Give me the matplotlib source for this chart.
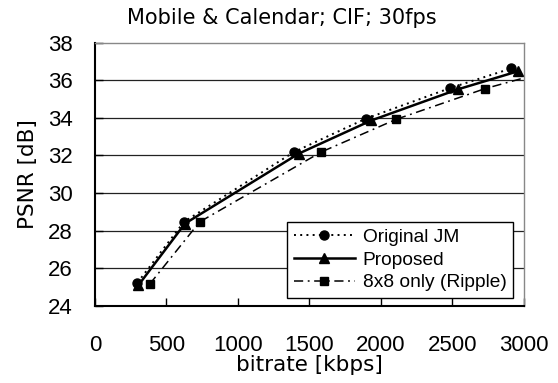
import matplotlib
matplotlib.use("Agg")
import matplotlib.pyplot as plt

plt.rcParams['font.family'] = ['Liberation Sans', 'DejaVu Sans']

# data
jm_rate = [298, 623, 1391, 1893, 2484, 2910]
jm_psnr = [25.24, 28.47, 32.18, 33.95, 35.58, 36.62]

prop_rate = [305, 630, 1426, 1933, 2537, 2961]
prop_psnr = [25.11, 28.38, 32.10, 33.86, 35.51, 36.48]

ripple_rate = [384, 733, 1582, 2107, 2728, 3350]
ripple_psnr = [25.17, 28.47, 32.18, 33.92, 35.55, 36.85]

xticks = [0, 500, 1000, 1500, 2000, 2500, 3000]
yticks = [24, 26, 28, 30, 32, 34, 36, 38]

fig = plt.figure(figsize=(5.58, 3.83), dpi=100)
ax = fig.add_axes([0.170, 0.201, 0.769, 0.688])

# horizontal grid
for y in yticks[1:-1]:
    ax.axhline(y, color='#222222', lw=0.9, zorder=1)

ax.plot(jm_rate, jm_psnr, color='black', ls=(0, (1, 2.2)), lw=1.4,
        marker='o', ms=6.5, label='Original JM', zorder=3)
ax.plot(prop_rate, prop_psnr, color='black', ls='-', lw=1.8,
        marker='^', ms=7, label='Proposed', zorder=3)
ax.plot(ripple_rate, ripple_psnr, color='black', ls=(0, (6, 3, 1.2, 3)), lw=1.1,
        marker='s', ms=5.5, label='8x8 only (Ripple)', zorder=3)

ax.set_xlim(0, 3000)
ax.set_ylim(24, 38)
ax.set_xticks(xticks)
ax.set_yticks(yticks)
ax.tick_params(axis='both', direction='in', length=6, width=1, labelsize=16,
               color='black')
ax.tick_params(axis='x', pad=21)
ax.tick_params(axis='y', pad=16)

for s in ['left', 'bottom']:
    ax.spines[s].set_color('black')
    ax.spines[s].set_linewidth(1.5)
for s in ['top', 'right']:
    ax.spines[s].set_color('#888888')
    ax.spines[s].set_linewidth(1.0)

ax.set_xlabel('bitrate [kbps]', fontsize=15.5, family='DejaVu Sans', labelpad=-1)
ax.set_ylabel('PSNR [dB]', fontsize=15.5, family='DejaVu Sans', labelpad=7)
fig.text(0.505, 0.952, 'Mobile & Calendar; CIF; 30fps', fontsize=15,
         family='DejaVu Sans', ha='center', va='center')

leg = ax.legend(loc='lower right', bbox_to_anchor=(0.975, 0.03), fontsize=13.8,
                frameon=True, fancybox=False, edgecolor='black',
                handlelength=3.2, handletextpad=0.4, labelspacing=0.28,
                borderpad=0.35, borderaxespad=0)
leg.get_frame().set_linewidth(1.0)
leg.get_frame().set_alpha(1)

fig.savefig('out.png', dpi=100)
